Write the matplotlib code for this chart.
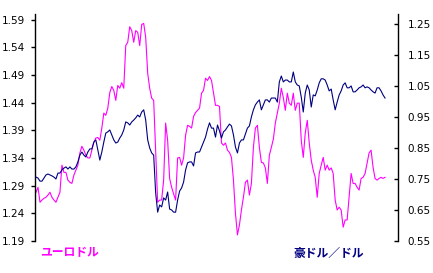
import matplotlib
matplotlib.use("Agg")
import matplotlib.pyplot as plt
import numpy as np

# ユーロドル (left axis)
eur_usd = [
    1.278, 1.287, 1.260, 1.264, 1.267, 1.269, 1.273, 1.278, 1.269, 1.264,
    1.260, 1.269, 1.278, 1.327, 1.314, 1.314, 1.300, 1.296, 1.294, 1.309,
    1.318, 1.327, 1.349, 1.361, 1.354, 1.345, 1.340, 1.340, 1.354, 1.368,
    1.376, 1.377, 1.372, 1.394, 1.421, 1.417, 1.430, 1.458, 1.469, 1.462,
    1.444, 1.471, 1.466, 1.476, 1.466, 1.543, 1.549, 1.577, 1.570, 1.549,
    1.570, 1.567, 1.543, 1.581, 1.583, 1.558, 1.493, 1.466, 1.448, 1.444,
    1.354, 1.260, 1.264, 1.264, 1.300, 1.403, 1.372, 1.303, 1.287, 1.275,
    1.264, 1.340, 1.341, 1.327, 1.340, 1.381, 1.399, 1.397, 1.394, 1.415,
    1.422, 1.426, 1.430, 1.457, 1.462, 1.484, 1.480, 1.487, 1.480, 1.458,
    1.435, 1.435, 1.433, 1.367, 1.363, 1.367, 1.354, 1.350, 1.341, 1.300,
    1.240, 1.201, 1.219, 1.246, 1.269, 1.296, 1.300, 1.273, 1.294, 1.359,
    1.394, 1.399, 1.359, 1.332, 1.331, 1.322, 1.294, 1.345, 1.359, 1.374,
    1.403, 1.421, 1.439, 1.466, 1.449, 1.426, 1.457, 1.439, 1.435, 1.457,
    1.426, 1.439, 1.439, 1.372, 1.341, 1.385, 1.408, 1.367, 1.336, 1.318,
    1.305, 1.269, 1.312, 1.327, 1.341, 1.318, 1.327, 1.318, 1.322, 1.312,
    1.264, 1.246, 1.251, 1.246, 1.215, 1.228, 1.228, 1.269, 1.312, 1.294,
    1.294, 1.287, 1.282, 1.303, 1.305, 1.312, 1.331, 1.349, 1.354, 1.323,
    1.303, 1.300, 1.303, 1.305, 1.303, 1.305,
]

# 豪ドル/ドル (right axis)
aud_usd = [
    0.756, 0.753, 0.743, 0.743, 0.753, 0.763, 0.766, 0.763, 0.760, 0.756,
    0.750, 0.769, 0.769, 0.779, 0.785, 0.789, 0.782, 0.789, 0.782, 0.782,
    0.789, 0.805, 0.827, 0.837, 0.827, 0.821, 0.837, 0.847, 0.847, 0.869,
    0.876, 0.843, 0.811, 0.837, 0.869, 0.898, 0.902, 0.908, 0.892, 0.876,
    0.866, 0.869, 0.882, 0.892, 0.908, 0.934, 0.931, 0.924, 0.934, 0.940,
    0.947, 0.956, 0.950, 0.966, 0.973, 0.940, 0.876, 0.850, 0.834, 0.827,
    0.705, 0.643, 0.666, 0.660, 0.689, 0.682, 0.708, 0.653, 0.650, 0.643,
    0.643, 0.682, 0.711, 0.721, 0.740, 0.779, 0.802, 0.805, 0.805, 0.792,
    0.834, 0.837, 0.837, 0.853, 0.869, 0.885, 0.911, 0.931, 0.914, 0.914,
    0.885, 0.924, 0.905, 0.882, 0.902, 0.908, 0.918, 0.927, 0.921, 0.892,
    0.853, 0.834, 0.866, 0.876, 0.876, 0.895, 0.914, 0.921, 0.950, 0.973,
    0.989, 0.998, 1.005, 0.973, 0.989, 1.005, 1.005, 0.998, 1.011, 1.011,
    1.011, 0.998, 1.063, 1.082, 1.063, 1.069, 1.069, 1.063, 1.063, 1.095,
    1.063, 1.053, 1.050, 1.014, 0.966, 1.027, 1.053, 1.037, 0.982, 1.021,
    1.018, 1.037, 1.060, 1.073, 1.073, 1.069, 1.053, 1.034, 1.040, 1.005,
    0.973, 0.998, 1.021, 1.034, 1.053, 1.060, 1.044, 1.044, 1.050, 1.031,
    1.031, 1.037, 1.044, 1.047, 1.053, 1.044, 1.047, 1.044, 1.037, 1.031,
    1.027, 1.044, 1.044, 1.034, 1.021, 1.011,
]

left_ticks = [1.19, 1.24, 1.29, 1.34, 1.39, 1.44, 1.49, 1.54, 1.59]
right_ticks = [0.55, 0.65, 0.75, 0.85, 0.95, 1.05, 1.15, 1.25]

magenta = "#FF00FF"
navy = "#000080"

W, H = 433, 273
fig = plt.figure(figsize=(W / 100, H / 100), dpi=100)
ax = fig.add_axes([35 / W, 1 - 241 / H, (398 - 35) / W, (241 - 14) / H])
ax2 = ax.twinx()

x = np.arange(len(eur_usd))
ax.plot(x, eur_usd, color=magenta, lw=0.8)
ax2.plot(x, aud_usd, color=navy, lw=0.8)

ax.set_xlim(-0.5, 181.5)
ax.set_ylim(1.19, 1.60)
ax2.set_ylim(0.55, 1.282)

ax.set_xticks([])
ax.set_yticks(left_ticks)
ax.set_yticklabels([f"{v:.2f}" for v in left_ticks])
ax2.set_yticks(right_ticks)
ax2.set_yticklabels([f"{v:.2f}" for v in right_ticks])

for a in (ax, ax2):
    for s in ("top", "bottom"):
        a.spines[s].set_visible(False)
    a.spines["left"].set_linewidth(1.0)
    a.spines["right"].set_linewidth(1.0)
ax.spines["right"].set_visible(False)
ax2.spines["left"].set_visible(False)
ax.spines["left"].set_bounds(1.19, 1.60)

ax.tick_params(axis="y", direction="out", length=3, width=1, pad=4,
               labelsize=7.5, colors="black")
ax2.tick_params(axis="y", direction="in", length=3, width=1, pad=7,
                labelsize=7.5, colors="black")

jp = ["Noto Sans CJK JP", "DejaVu Sans"]
fig.text(40 / W, 1 - 253 / H, "ユーロドル", color=magenta, fontsize=8.5,
         fontweight="bold", family=jp, va="center", ha="left")
fig.text(293 / W, 1 - 253 / H, "豪ドル／ドル", color=navy, fontsize=8.5,
         fontweight="bold", family=jp, va="center", ha="left")

fig.savefig("out.png", dpi=100)
